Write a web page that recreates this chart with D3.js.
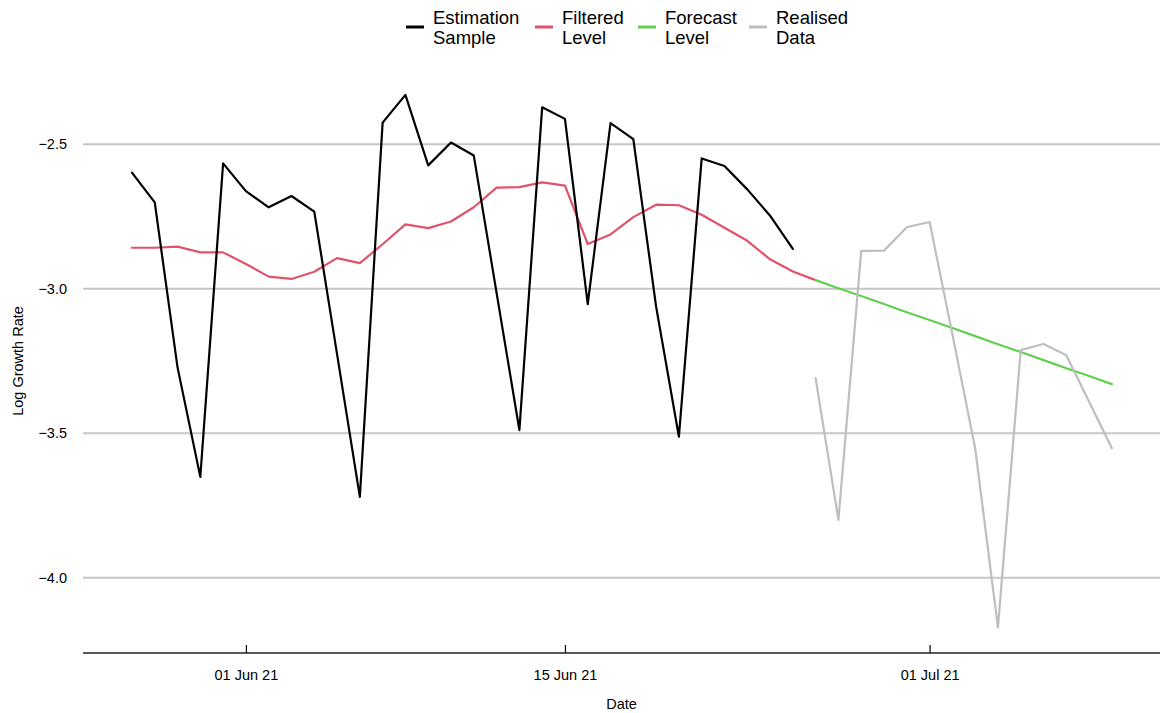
<!DOCTYPE html>
<html>
<head>
<meta charset="utf-8">
<script src="https://cdn.jsdelivr.net/npm/d3@7"></script>
<style>
  html, body { margin: 0; padding: 0; background: #ffffff; }
  svg { display: block; font-family: "Liberation Sans", Arial, sans-serif; }
</style>
</head>
<body>
<svg id="chart" width="1160" height="713"></svg>
<script>
// Daily log growth rate: estimation sample, filtered level, forecast and realised data
const sampleStart = "2021-05-27";
const estimationSample = [
  -2.598, -2.701, -3.272, -3.651, -2.566, -2.662, -2.718, -2.679, -2.733, -3.226,
  -3.720, -2.425, -2.329, -2.573, -2.494, -2.539, -3.014, -3.489, -2.372, -2.412,
  -3.053, -2.427, -2.482, -3.062, -3.512, -2.549, -2.575, -2.656, -2.747, -2.862
];
const filteredLevel = [
  -2.858, -2.858, -2.854, -2.874, -2.874, -2.914, -2.958, -2.966, -2.941, -2.894,
  -2.911, -2.846, -2.777, -2.790, -2.767, -2.718, -2.650, -2.648, -2.632, -2.643,
  -2.845, -2.812, -2.752, -2.709, -2.711, -2.744, -2.789, -2.834, -2.898, -2.940,
  -2.970
];
const forecastStart = "2021-06-26";
const forecastLevel = [
  -2.970, -2.998, -3.025, -3.053, -3.081, -3.108, -3.136,
  -3.164, -3.192, -3.219, -3.247, -3.275, -3.302, -3.330
];
const realisedData = [
  -3.310, -3.800, -2.869, -2.868, -2.787, -2.769, -3.157,
  -3.552, -4.173, -3.212, -3.191, -3.230, -3.391, -3.552
];
const xTicks = ["2021-06-01", "2021-06-15", "2021-07-01"];
const yTicks = [-2.5, -3.0, -3.5, -4.0];
const legendLabels = [["Estimation", "Sample"], ["Filtered", "Level"], ["Forecast", "Level"], ["Realised", "Data"]];
const seriesColors = ["#000000", "#DF536B", "#61D04F", "#BEBEBE"];

const parse = d3.utcParse("%Y-%m-%d");
const toPoints = (start, values) =>
  values.map((v, i) => ({ date: d3.utcDay.offset(parse(start), i), value: v }));

const series = [
  toPoints(sampleStart, estimationSample),
  toPoints(sampleStart, filteredLevel),
  toPoints(forecastStart, forecastLevel),
  toPoints(forecastStart, realisedData)
];

const svg = d3.select("#chart");
const plotLeft = 83, plotRight = 1160, axisY = 653;

const x = d3.scaleUtc()
  .domain([parse("2021-05-27"), parse("2021-07-09")])
  .range([131.95, 1111.9]);
const y = d3.scaleLinear()
  .domain([-2.5, -4.0])
  .range([144.3, 577.7]);

// horizontal grid lines
svg.append("g")
  .selectAll("line")
  .data(yTicks)
  .join("line")
  .attr("x1", plotLeft).attr("x2", plotRight)
  .attr("y1", d => y(d)).attr("y2", d => y(d))
  .attr("stroke", "#C6C6C6").attr("stroke-width", 2);

// y tick labels
svg.append("g")
  .selectAll("text")
  .data(yTicks)
  .join("text")
  .attr("x", 67).attr("y", d => y(d))
  .attr("dy", "0.35em")
  .attr("text-anchor", "end")
  .attr("font-size", 14.5)
  .attr("fill", "#000")
  .text(d => d3.format(".1f")(d).replace("-", "\u2212"));

// x axis
const xAxis = d3.axisBottom(x)
  .tickValues(xTicks.map(parse))
  .tickFormat(d3.utcFormat("%d %b %y"))
  .tickSizeInner(-8)
  .tickSizeOuter(0)
  .tickPadding(17);
const gx = svg.append("g").attr("transform", `translate(0,${axisY})`).call(xAxis);
gx.select(".domain").remove();
gx.selectAll(".tick line").attr("stroke", "#000").attr("stroke-width", 1.2);
gx.selectAll(".tick text").attr("font-size", 14.5).attr("fill", "#000")
  .attr("font-family", "'Liberation Sans', Arial, sans-serif");
svg.append("line")
  .attr("x1", plotLeft).attr("x2", plotRight)
  .attr("y1", axisY).attr("y2", axisY)
  .attr("stroke", "#222").attr("stroke-width", 1.5);

// axis titles
svg.append("text")
  .attr("x", (plotLeft + plotRight) / 2).attr("y", 709)
  .attr("text-anchor", "middle").attr("font-size", 14.5)
  .text("Date");
svg.append("text")
  .attr("transform", "translate(23,361) rotate(-90)")
  .attr("text-anchor", "middle").attr("font-size", 14.5)
  .text("Log Growth Rate");

// series lines
const line = d3.line().x(d => x(d.date)).y(d => y(d.value));
const drawOrder = [1, 2, 0, 3];
svg.append("g")
  .selectAll("path")
  .data(drawOrder)
  .join("path")
  .attr("d", i => line(series[i]))
  .attr("fill", "none")
  .attr("stroke", i => seriesColors[i])
  .attr("stroke-width", 2.2)
  .attr("stroke-linejoin", "round")
  .attr("stroke-linecap", "round");

// legend
const legendKeyX = [406, 535, 638, 749];
const legend = svg.append("g")
  .selectAll("g")
  .data(legendLabels)
  .join("g")
  .attr("transform", (d, i) => `translate(${legendKeyX[i]},27)`);
legend.append("line")
  .attr("x1", 0).attr("x2", 18).attr("y1", 0).attr("y2", 0)
  .attr("stroke", (d, i) => seriesColors[i]).attr("stroke-width", 3);
legend.append("text")
  .attr("x", 27).attr("y", -9).attr("dy", "0.35em")
  .attr("font-size", 18.5)
  .text(d => d[0]);
legend.append("text")
  .attr("x", 27).attr("y", 11).attr("dy", "0.35em")
  .attr("font-size", 18.5)
  .text(d => d[1]);
</script>
</body>
</html>
